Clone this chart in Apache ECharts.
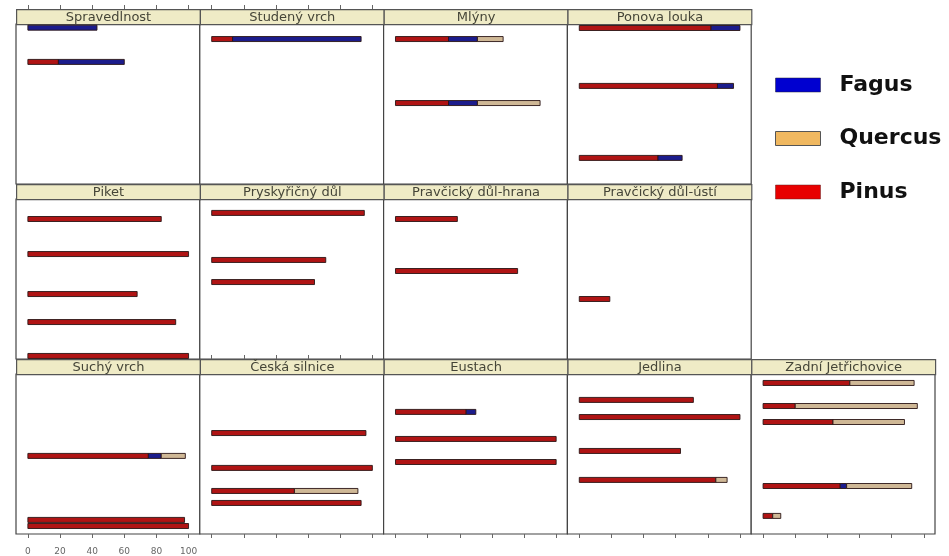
<!DOCTYPE html>
<html>
<head>
<meta charset="utf-8">
<script src="https://cdn.jsdelivr.net/npm/echarts@6/dist/echarts.min.js"></script>
<style>
  html, body { margin: 0; padding: 0; background: #fff; }
  #chart { width: 949px; height: 556px; }
</style>
</head>
<body>
<div id="chart"></div>
<script>
// panel names (lattice strips), read row by row
const panels = [
  "Spravedlnost", "Studený vrch", "Mlýny", "Ponova louka",
  "Piket", "Pryskyřičný důl", "Pravčický důl-hrana", "Pravčický důl-ústí",
  "Suchý vrch", "Česká silnice", "Eustach", "Jedlina", "Zadní Jetřichovice"
];
const species = ["Pinus", "Fagus", "Quercus"];
const xTicks = [0, 20, 40, 60, 80, 100];

// vertical position of each bar inside its panel (0 = bottom, 100 = top)
const yPos = [
  [97.7, 76.3], [90.6], [90.6, 50.6], [97.5, 61.3, 16.3],
  [87.5, 65.6, 40.6, 23.1, 1.9], [91.3, 61.9, 48.1], [87.5, 55], [37.5],
  [48.8, 8.8, 5], [63.1, 41.3, 26.9, 19.4], [76.3, 59.4, 45],
  [83.8, 73.1, 51.9, 33.8], [94.4, 80, 70, 30, 11.3]
];
const pinus = [
  [0, 19], [13], [33, 33], [82, 86, 49],
  [83, 100, 68, 92, 100], [95, 71, 64], [38.5, 76], [19],
  [75, 97.5, 100], [96, 100, 51.5, 93], [44, 100, 100],
  [71, 100, 63, 85], [54, 20, 43.5, 48, 6]
];
const fagus = [
  [43, 41], [80], [18, 18], [18, 10, 15],
  [0, 0, 0, 0, 0], [0, 0, 0], [0, 0], [0],
  [8, 0, 0], [0, 0, 0, 0], [6, 0, 0],
  [0, 0, 0, 0], [0, 0, 0, 4, 0]
];
const quercus = [
  [0, 0], [0], [16, 39], [0, 0, 0],
  [0, 0, 0, 0, 0], [0, 0, 0], [0, 0], [0],
  [15, 0, 0], [0, 0, 39.5, 0], [0, 0, 0],
  [0, 0, 0, 7], [40, 76, 44.5, 40.5, 5]
];

const barColors = { Pinus: "#b01414", Fagus: "#1c1c8c", Quercus: "#cfb896" };
const values = { Pinus: pinus, Fagus: fagus, Quercus: quercus };

const chart = echarts.init(document.getElementById("chart"));

const left0 = 16, colW = 183.8, top0 = 9, rowH = 175, stripH = 15;

function renderSeg(params, api) {
  const a = api.coord([api.value(0), api.value(2)]);
  const b = api.coord([api.value(1), api.value(2)]);
  const h = 5;
  return {
    type: "rect",
    shape: { x: a[0], y: a[1] - h / 2, width: b[0] - a[0], height: h },
    style: { fill: api.visual("color"), stroke: "#2a1515", lineWidth: 0.9 }
  };
}

const grids = [], xAxes = [], yAxes = [], series = [], graphics = [];

panels.forEach((name, i) => {
  const row = i < 4 ? 0 : i < 8 ? 1 : 2;
  const col = row === 2 ? i - 8 : i % 4;
  const left = left0 + col * colW;
  const top = top0 + row * rowH;

  grids.push({
    left: left, top: top + stripH, width: colW, height: rowH - stripH,
    show: true, borderColor: "#444", borderWidth: 1.2, backgroundColor: "#fff"
  });

  const showTop = row === 0 && col < 2;
  const showBottom = row === 2 || (row === 1 && col === 1);
  xAxes.push({
    type: "value", gridIndex: i, min: -7.4, max: 107,
    position: showTop ? "top" : "bottom",
    offset: showTop ? stripH : 0,
    axisLine: { show: false, onZero: false },
    splitLine: { show: false },
    axisTick: {
      show: showTop || showBottom,
      inside: row === 1,
      length: 4,
      lineStyle: { color: "#666" },
      customValues: xTicks
    },
    axisLabel: {
      show: row === 2 && col === 0,
      customValues: xTicks,
      fontSize: 9, color: "#666", margin: 13,
      fontFamily: "DejaVu Sans"
    }
  });
  yAxes.push({ type: "value", gridIndex: i, min: 0, max: 100, show: false });

  species.forEach((sp) => {
    const data = [];
    yPos[i].forEach((y, k) => {
      let start = 0;
      for (const s of species) {
        if (s === sp) break;
        start += values[s][i][k];
      }
      const v = values[sp][i][k];
      if (v > 0) data.push([start, start + v, y]);
    });
    series.push({
      name: sp, type: "custom", xAxisIndex: i, yAxisIndex: i,
      itemStyle: { color: barColors[sp] },
      encode: { x: [0, 1], y: 2 },
      renderItem: renderSeg,
      data: data,
      silent: true
    });
  });

  graphics.push({
    type: "group", left: left, top: top,
    children: [
      { type: "rect", shape: { x: 0, y: 0, width: colW, height: stripH },
        style: { fill: "#efebc6", stroke: "#555", lineWidth: 1.2 } },
      { type: "text", x: colW / 2, y: stripH / 2 + 0.5,
        style: { text: name, fill: "#454538", fontSize: 13,
          fontFamily: "DejaVu Sans", align: "center", verticalAlign: "middle" } }
    ]
  });
});

const option = {
  backgroundColor: "#fff",
  animation: false,
  legend: {
    orient: "vertical", left: 775, top: 74, padding: 0,
    itemWidth: 45, itemHeight: 14, itemGap: 31.5,
    icon: "rect",
    selectedMode: false,
    textStyle: { fontSize: 22, fontWeight: "bold", color: "#111",
      fontFamily: "DejaVu Sans", padding: [0, 0, 0, 14] },
    data: [
      { name: "Fagus", itemStyle: { color: "#0000d0", borderColor: "#223", borderWidth: 0.5 } },
      { name: "Quercus", itemStyle: { color: "#f0b860", borderColor: "#555", borderWidth: 1 } },
      { name: "Pinus", itemStyle: { color: "#e80000", borderColor: "#622", borderWidth: 0.5 } }
    ]
  },
  grid: grids,
  xAxis: xAxes,
  yAxis: yAxes,
  series: series,
  graphic: graphics
};

chart.setOption(option);
</script>
</body>
</html>
